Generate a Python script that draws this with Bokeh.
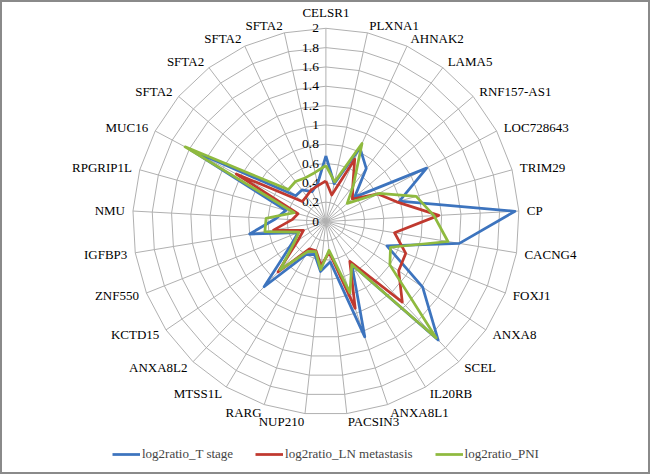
import numpy as np
from bokeh.plotting import figure
from bokeh.models import Range1d, Legend, LegendItem
from bokeh.embed import file_html
from bokeh.resources import INLINE
from bokeh.core.properties import value

categories = ["CELSR1", "PLXNA1", "AHNAK2", "LAMA5", "RNF157-AS1", "LOC728643",
              "TRIM29", "CP", "CACNG4", "FOXJ1", "ANXA8", "SCEL", "IL20RB",
              "ANXA8L1", "PACSIN3", "NUP210", "RARG", "MTSS1L", "ANXA8L2",
              "KCTD15", "ZNF550", "IGFBP3", "NMU", "RPGRIP1L", "MUC16",
              "SFTA2", "SFTA2", "SFTA2", "SFTA2"]

t_stage = [0.68, 0.40, 0.84, 0.69, 0.39, 1.18, 0.79, 1.96, 1.40, 0.68, 1.21, 1.69, 0.52,
           1.26, 0.42, 0.52, 0.36, 0.40, 0.93, 0.44, 0.31, 0.80, 0.52, 0.43, 1.58,
           0.41, 0.41, 0.34, 0.40]
ln_metastasis = [0.42, 0.28, 0.71, 0.46, 0.36, 0.61, 0.76, 1.17, 0.72, 0.89, 0.91, 1.15, 0.48,
                 0.95, 0.32, 0.46, 0.32, 0.33, 0.72, 0.35, 0.25, 0.55, 0.35, 0.30, 1.05,
                 0.32, 0.33, 0.36, 0.38]
pni = [0.58, 0.42, 0.89, 0.47, 0.29, 0.62, 0.97, 1.12, 1.28, 0.72, 0.80, 1.66, 0.52,
       0.78, 0.30, 0.50, 0.33, 0.36, 0.69, 0.40, 0.30, 0.64, 0.62, 0.34, 1.65,
       0.51, 0.52, 0.50, 0.52]

series_names = ["log2ratio_T stage", "log2ratio_LN metastasis", "log2ratio_PNI"]
series_colors = ["#3d74be", "#c0392f", "#8fba3f"]

tick_values = [0, 0.2, 0.4, 0.6, 0.8, 1.0, 1.2, 1.4, 1.6, 1.8, 2.0]
tick_labels = ["0", "0.2", "0.4", "0.6", "0.8", "1", "1.2", "1.4", "1.6", "1.8", "2"]

W, H = 650, 474
PX = 96.6            # pixels per unit
CX, CY = 325.4, 221  # centre in figure pixels

FONT_NAME = "Liberation Serif"
FONT = value(FONT_NAME)
FS = "13px"

n = len(categories)
ang = np.arange(n) * 2 * np.pi / n
sx, cy = np.sin(ang), np.cos(ang)

p = figure(width=W, height=H, output_backend="svg", toolbar_location=None,
           x_range=Range1d(-CX / PX, (W - CX) / PX),
           y_range=Range1d(-(H - CY) / PX, CY / PX),
           min_border=0)
p.axis.visible = False
p.grid.visible = False
p.outline_line_color = "#8a8a8a"
p.outline_line_width = 3
p.background_fill_color = "white"
p.border_fill_color = "white"

rmax = tick_values[-1]
grid_col = "#b0b0b0"
ring_xs, ring_ys = [], []
for t in tick_values[1:]:
    ring_xs.append(list(t * np.append(sx, sx[0])))
    ring_ys.append(list(t * np.append(cy, cy[0])))
p.multi_line(ring_xs, ring_ys, line_color=grid_col, line_width=1)
p.segment(x0=np.zeros(n), y0=np.zeros(n), x1=rmax * sx, y1=rmax * cy,
          line_color=grid_col, line_width=1)

p.text(x=np.zeros(len(tick_values)), y=tick_values, text=tick_labels,
       x_offset=-7, text_align="right", text_baseline="middle",
       text_font=FONT, text_font_size="13.5px", text_color="#000000")

aligns = ["center" if abs(s) < 1e-6 else ("left" if s > 0 else "right") for s in sx]
baselines = ["bottom" if i == 0 else "middle" for i in range(n)]
off = 8
p.text(x=rmax * sx, y=rmax * cy, text=categories,
       x_offset=off * sx, y_offset=-off * cy,
       text_align=aligns, text_baseline=baselines,
       text_font=FONT, text_font_size=FS, text_color="#000000")

items = []
for vals, name, col in zip([t_stage, ln_metastasis, pni], series_names, series_colors):
    v = np.asarray(vals)
    xs = np.append(v * sx, v[0] * sx[0])
    ys = np.append(v * cy, v[0] * cy[0])
    r = p.line(xs, ys, line_color=col, line_width=2.75, line_join="round")
    items.append(LegendItem(label=name, renderers=[r]))

legend = Legend(items=items, orientation="horizontal", location=(112, 10),
                padding=0, margin=0, spacing=22, label_standoff=2,
                glyph_width=28, glyph_height=20, label_height=20,
                border_line_alpha=0, background_fill_alpha=0,
                label_text_font=FONT_NAME, label_text_font_size=FS)
p.add_layout(legend)

open("out.html", "w").write(file_html(p, INLINE))
